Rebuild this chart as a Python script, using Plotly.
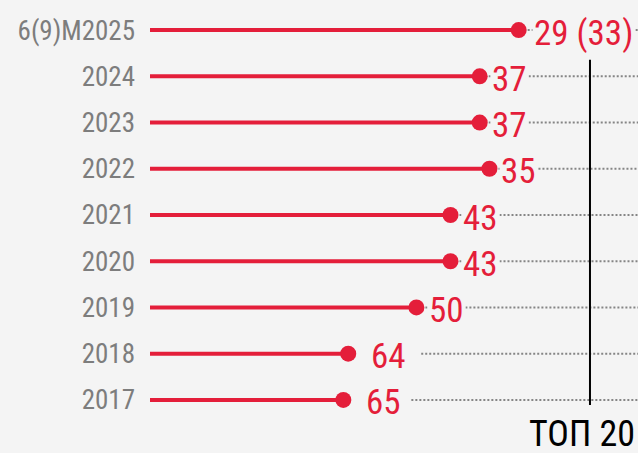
import plotly.graph_objects as go

# ---- data ----
periods = ["6(9)M2025", "2024", "2023", "2022", "2021", "2020", "2019", "2018", "2017"]
ranks = [29, 37, 37, 35, 43, 43, 50, 64, 65]
rank_labels = ["29 (33)", "37", "37", "35", "43", "43", "50", "64", "65"]
top_label = "ТОП 20"

# ---- styles ----
RED = "#E41E3A"
GRAY = "#7d7d7d"
BG = "#f4f4f4"
FONT = "Roboto Condensed, Liberation Sans Narrow, sans-serif"
X_RANGE = [104.7, 4.5]  # reversed rank axis
label_shift = [13, 10, 10, 10, 10, 10, 11, 21, 21]
dot_start = [9, 9, 9, 9, 9, 9, 9, 73, 68]

fig = go.Figure()

# stems
xs, ys = [], []
for p, r in zip(periods, ranks):
    xs += [X_RANGE[0], r, None]
    ys += [p, p, None]
fig.add_trace(go.Scatter(x=xs, y=ys, mode="lines",
                         line=dict(color=RED, width=4), hoverinfo="skip",
                         showlegend=False))
# dots
fig.add_trace(go.Scatter(x=ranks, y=periods, mode="markers",
                         marker=dict(color=RED, size=16), showlegend=False))

shapes = []
annotations = []
for i, (r, t) in enumerate(zip(ranks, rank_labels)):
    shapes.append(dict(type="line", xref="x", yref="y", xsizemode="pixel",
                       xanchor=r, x0=dot_start[i], x1=800, y0=i, y1=i,
                       line=dict(color="#858585", width=2, dash="2px,2px"),
                       layer="below"))
    annotations.append(dict(x=r, y=i, xref="x", yref="y", text=t,
                            showarrow=False, xanchor="left", yanchor="middle",
                            xshift=label_shift[i], yshift=-3,
                            font=dict(family=FONT, size=35, color=RED),
                            bgcolor=BG, borderpad=1))

# top-20 marker line
shapes.append(dict(type="line", xref="paper", yref="paper",
                   x0=0.9016, x1=0.9016, y0=0.043, y1=0.873,
                   line=dict(color="black", width=2)))
annotations.append(dict(x=1, y=0, xref="paper", yref="paper",
                        text=top_label, showarrow=False, xanchor="right",
                        yanchor="top", xshift=-1, yshift=12,
                        font=dict(family=FONT, size=36, color="black")))

fig.update_layout(
    width=638, height=453,
    margin=dict(l=150, r=0, t=7, b=30),
    paper_bgcolor=BG, plot_bgcolor=BG,
    shapes=shapes, annotations=annotations,
    xaxis=dict(range=X_RANGE, visible=False, showgrid=False, zeroline=False),
    yaxis=dict(type="category", categoryorder="array", categoryarray=periods,
               range=[8.5, -0.5], showgrid=False, zeroline=False,
               ticks="", ticklabelstandoff=14,
               tickfont=dict(family=FONT, size=27, color=GRAY)),
)

fig.write_html("out.html", config={"displayModeBar": False},
               post_script="document.body.style.margin='0';")
